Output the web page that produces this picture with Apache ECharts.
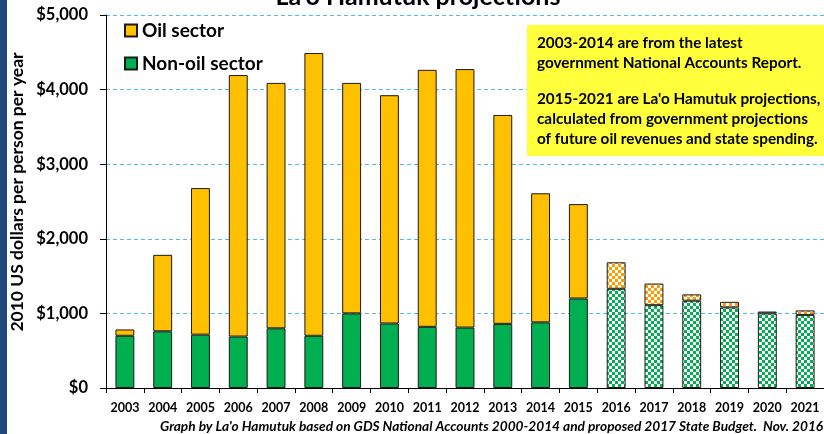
<!DOCTYPE html>
<html><head><meta charset="utf-8">
<script src="https://cdn.jsdelivr.net/npm/echarts@6/dist/echarts.min.js"></script>
<style>html,body{margin:0;padding:0;background:#fff}#c{width:824px;height:434px}</style>
</head><body><div id="c"></div>
<script>
const years = ['2003','2004','2005','2006','2007','2008','2009','2010','2011','2012','2013','2014','2015','2016','2017','2018','2019','2020','2021'];
const nonOil = [700,760,715,690,800,700,1000,865,820,810,860,880,1200,1330,1110,1170,1080,1000,980];
const oil = [85,1025,1965,3505,3290,3790,3090,3060,3445,3465,2800,1730,1265,355,290,85,75,25,60];
const projectedFrom = '2016';
const yTicks = [0,1000,2000,3000,4000,5000];
const noteLines = ['2003-2014 are from the latest','government National Accounts Report.','2015-2021 are La\'o Hamutuk projections,','calculated from government projections','of future oil revenues and state spending.'];

const GREEN = '#00B050', GOLD = '#FFC000', ORANGE = '#FF9A00';
function checker(col){
  const c = document.createElement('canvas'); c.width = 6; c.height = 6;
  const g = c.getContext('2d');
  g.fillStyle = '#fff'; g.fillRect(0,0,6,6);
  g.fillStyle = col; g.fillRect(0,0,3,3); g.fillRect(3,3,3,3);
  return {image: c, repeat: 'repeat'};
}
const pIdx = years.indexOf(projectedFrom);
function build(vals, pat){
  return vals.map((v,i)=> i>=pIdx ? {value:v, itemStyle:{color: checker(pat)}} : v);
}
const chart = echarts.init(document.getElementById('c'));
const F = 'Lato, "Open Sans", sans-serif';
const noteFont = 'bold 15.3px '+F;
const noteY = [43,63,99,119,139];
chart.setOption({
  animation:false,
  grid:{left:106,right:0,top:15,bottom:46,containLabel:false},
  legend:{data:['Oil sector','Non-oil sector'],orient:'vertical',left:119,top:16,itemWidth:12,itemHeight:12,itemGap:14,
    textStyle:{fontFamily:F,fontSize:19,fontWeight:'bold',color:'#000'},icon:'rect'},
  xAxis:{type:'category',data:years,
    axisLine:{lineStyle:{color:'#000',width:1}},
    axisTick:{show:true,length:5,lineStyle:{color:'#000'}},
    axisLabel:{fontFamily:F,fontSize:12.5,fontWeight:'bold',color:'#000',margin:13,interval:0}},
  yAxis:{type:'value',min:0,max:5000,interval:1000,
    axisLine:{show:true,lineStyle:{color:'#000',width:1}},
    axisTick:{show:true,length:6,lineStyle:{color:'#000'}},
    axisLabel:{fontFamily:F,fontSize:16.5,fontWeight:'bold',color:'#000',margin:18,
      formatter:v=>'$'+v.toLocaleString('en-US')},
    splitLine:{show:true,lineStyle:{color:'#4FBDE8',type:[4,3],width:1}}},
  series:[
    {name:'Non-oil sector',type:'bar',stack:'t',barWidth:'50%',data:build(nonOil,GREEN),
      itemStyle:{color:GREEN,borderColor:'#1a1a1a',borderWidth:1}},
    {name:'Oil sector',type:'bar',stack:'t',barWidth:'50%',data:build(oil,ORANGE),
      itemStyle:{color:GOLD,borderColor:'#1a1a1a',borderWidth:1}}
  ],
  graphic:[
    {type:'rect',left:0,top:0,shape:{width:7,height:434},style:{fill:'#1F497D'},z:10},
    {type:'text',x:418,y:9,style:{text:"La'o Hamutuk projections",font:'bold 25px '+F,fill:'#000',align:'center',verticalAlign:'bottom'}},
    {type:'text',x:17,y:192,rotation:Math.PI/2,style:{text:'2010 US dollars per person per year',font:'bold 17.5px '+F,fill:'#000',align:'center',verticalAlign:'middle'}},
    {type:'rect',x:527,y:25,shape:{width:300,height:131},style:{fill:'#FFFF3B'},z:5}
  ].concat(noteLines.map((t,i)=>({type:'text',x:537,y:noteY[i],z:6,style:{text:t,font:noteFont,fill:'#000',verticalAlign:'middle'}})))
  .concat([
    {type:'text',x:160,y:420,style:{text:'Graph by La\'o Hamutuk based on GDS National Accounts 2000-2014 and proposed 2017 State Budget.  Nov. 2016',font:'italic bold 13.7px '+F,fill:'#000',verticalAlign:'top'}}
  ])
});
</script></body></html>
